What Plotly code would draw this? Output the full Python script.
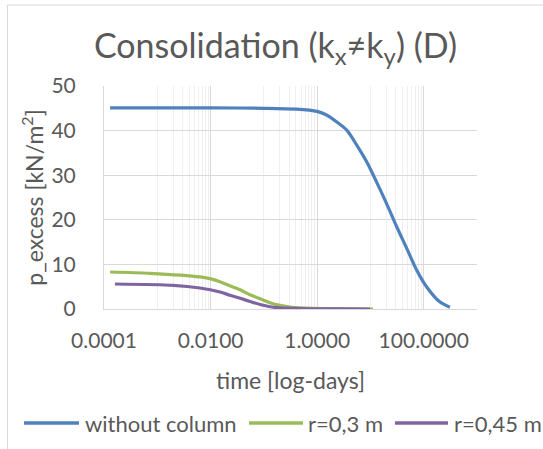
import plotly.graph_objects as go

# ---- data -------------------------------------------------------------
t_no_column = [0.00013, 0.001, 0.01, 0.1, 0.4, 1.0, 1.5, 2.3, 3.6, 5.5, 8.5,
               13, 20, 31, 48, 74, 113, 200, 310]
p_no_column = [45.1, 45.1, 45.1, 45.0, 44.8, 44.3, 43.5, 42.0, 40.1, 36.8, 33.0,
               28.5, 23.7, 18.5, 13.6, 8.7, 5.0, 1.6, 0.4]

t_r030 = [0.00013, 0.00073, 0.0063, 0.0097, 0.015, 0.023, 0.036, 0.055, 0.085,
          0.13, 0.2, 0.31, 0.48, 0.83, 2.7, 11.2]
p_r030 = [8.3, 8.0, 7.2, 6.8, 6.1, 5.2, 4.3, 3.2, 2.3, 1.4, 0.8, 0.45, 0.25,
          0.12, 0.04, 0.0]

t_r045 = [0.00016, 0.002, 0.0063, 0.015, 0.023, 0.036, 0.055, 0.085, 0.13,
          0.2, 0.48, 0.83, 2.7, 9.8]
p_r045 = [5.6, 5.3, 4.7, 3.8, 3.1, 2.4, 1.7, 1.0, 0.5, 0.25, 0.08, 0.04, 0.02, 0.0]

series_names = ["without column", "r=0,3 m", "r=0,45 m"]
series_colors = ["#4F81BD", "#9BBB59", "#8064A2"]

x_major_ticks = [0.0001, 0.01, 1, 100, 1000]
x_tick_labels = ["0.0001", "0.0100", "1.0000", "100.0000", ""]
x_minor_ticks = [m * 10.0 ** k for k in (-3, -1, 1) for m in range(1, 10)]
y_ticks = [0, 10, 20, 30, 40, 50]

# ---- layout geometry (pixels) ------------------------------------------
W, H = 543, 449
L, R, T, B = 104, 66, 86, 140
PW, PH = W - L - R, H - T - B

def px_x(px):
    return (px - L) / PW

def px_y(py):
    return (H - B - py) / PH

TEXT = "#595959"
FONT = "Lato, 'Open Sans', sans-serif"
TICK_SIZE = 21
LABEL_SIZE = 23

fig = go.Figure()
for t, p, name, color in zip((t_no_column, t_r030, t_r045),
                             (p_no_column, p_r030, p_r045),
                             series_names, series_colors):
    fig.add_trace(go.Scatter(
        x=t, y=p, name=name, mode="lines",
        line=dict(color=color, width=3.2, shape="spline", smoothing=0.8),
        showlegend=False,
    ))

fig.update_layout(
    width=W, height=H,
    margin=dict(l=L, r=R, t=T, b=B, pad=0),
    paper_bgcolor="white", plot_bgcolor="white",
    font=dict(family=FONT, color=TEXT, size=20),
    title=dict(
        text="Consolidation (k<sub>x</sub>≠k<sub>y</sub>) (D)",
        font=dict(size=34, color=TEXT, family=FONT),
        x=px_x(275.5), xref="paper", xanchor="center",
        y=1 - 46 / H, yref="container", yanchor="middle",
    ),
    xaxis=dict(
        type="log", range=[-4, 3],
        tickvals=x_major_ticks, ticktext=x_tick_labels,
        showgrid=True, gridcolor="#D9D9D9", gridwidth=1,
        minor=dict(tickvals=x_minor_ticks, showgrid=True,
                   gridcolor="#EFEFEF", gridwidth=1, ticks=""),
        showline=True, linecolor="#D9D9D9", linewidth=1,
        ticks="", ticklabelstandoff=13,
        tickfont=dict(size=TICK_SIZE, color=TEXT),
        title=dict(text="time [log-days]", standoff=21,
                   font=dict(size=LABEL_SIZE, color=TEXT)),
        zeroline=False,
    ),
    yaxis=dict(
        range=[0, 50], tickvals=y_ticks,
        showgrid=True, gridcolor="#D9D9D9", gridwidth=1,
        showline=True, linecolor="#D9D9D9", linewidth=1,
        ticks="", ticklabelstandoff=23,
        tickfont=dict(size=TICK_SIZE, color=TEXT),
        title=dict(text="p_excess [kN/m<sup>2</sup>]", standoff=1,
                   font=dict(size=LABEL_SIZE, color=TEXT)),
        zeroline=False,
    ),
)

# outer chart frame
fig.add_shape(type="rect", xref="paper", yref="paper",
              x0=px_x(7.5), x1=px_x(560), y0=px_y(470), y1=px_y(5),
              line=dict(color="#D9D9D9", width=1), fillcolor="rgba(0,0,0,0)",
              layer="below")

# legend row drawn below the axis title
legend_y = px_y(423)
legend_items = [(24, 79, 83), (249, 303, 306), (395, 448, 452)]
for (x0, x1, xt), name, color in zip(legend_items, series_names, series_colors):
    fig.add_shape(type="line", xref="paper", yref="paper",
                  x0=px_x(x0), x1=px_x(x1), y0=legend_y, y1=legend_y,
                  line=dict(color=color, width=3.5))
    fig.add_annotation(xref="paper", yref="paper", x=px_x(xt), y=legend_y,
                       xanchor="left", yanchor="middle", showarrow=False,
                       text=name, font=dict(size=LABEL_SIZE - 1, color=TEXT))

fig.write_html("out.html")
